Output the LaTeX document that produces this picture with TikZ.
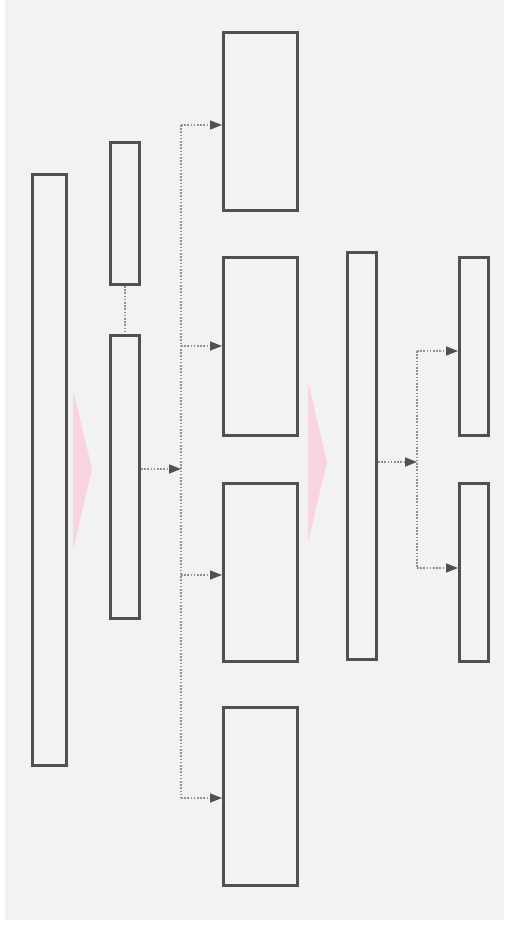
\documentclass[tikz,border=0pt]{standalone}
\usepackage{tikz}
\usetikzlibrary{arrows.meta,calc}
\usepackage{xcolor}
\definecolor{boxgray}{HTML}{505050}
\definecolor{dotgray}{HTML}{909090}
\definecolor{bggray}{HTML}{F2F2F2}
\definecolor{pinkarrow}{HTML}{F8D5DE}

\begin{document}
\begin{tikzpicture}[x=1pt, y=-1pt, >={Triangle[length=12pt,width=9pt,fill=boxgray,color=boxgray]},
    block/.style={draw=boxgray, line width=3pt, inner sep=0pt},
    link/.style={dotgray, line width=1.4pt, dash pattern=on 1.6pt off 1.6pt}]
    % Background and margins
    \useasboundingbox (0,0) rectangle (504,925);
    \fill[bggray] (5,0) rectangle (504,920);

    % Blocks
    \node[block, minimum width=34pt, minimum height=591pt] (A) at (49.5,470) {};
    \node[block, minimum width=29pt, minimum height=142pt] (B) at (125,213.5) {};
    \node[block, minimum width=29pt, minimum height=283pt] (C) at (125,477) {};
    \node[block, minimum width=74pt, minimum height=178pt] (D1) at (260.5,121.5) {};
    \node[block, minimum width=74pt, minimum height=178pt] (D2) at (260.5,346.5) {};
    \node[block, minimum width=74pt, minimum height=178pt] (D3) at (260.5,572.5) {};
    \node[block, minimum width=74pt, minimum height=178pt] (D4) at (260.5,796.5) {};
    \node[block, minimum width=29pt, minimum height=407pt] (E) at (362,456) {};
    \node[block, minimum width=29pt, minimum height=178pt] (F1) at (474,346.5) {};
    \node[block, minimum width=29pt, minimum height=178pt] (F2) at (474,572.5) {};

    % Pink arrows
    \fill[pinkarrow] (73,390) -- (92,469) -- (73,550) -- cycle;
    \fill[pinkarrow] (308,382) -- (327,462) -- (308,542) -- cycle;

    % Bus points
    \coordinate (cj) at (181,469);
    \coordinate (b1) at (181,125);
    \coordinate (b2) at (181,346);
    \coordinate (b3) at (181,575);
    \coordinate (b4) at (181,798);
    \coordinate (ej) at (417,462);
    \coordinate (f1) at (417,351);
    \coordinate (f2) at (417,568);

    % Dotted connectors
    \draw[link] (B.south) -- (C.north);
    \draw[link, ->] (C.east |- cj) -- (cj);
    \draw[link] (b1) -- (b4);
    \foreach \b/\d in {b1/D1, b2/D2, b3/D3, b4/D4}
        \draw[link, ->] (\b) -- (\d.west |- \b);
    \draw[link, ->] (E.east |- ej) -- (ej);
    \draw[link] (f1) -- (f2);
    \draw[link, ->] (f1) -- (F1.west |- f1);
    \draw[link, ->] (f2) -- (F2.west |- f2);
\end{tikzpicture}
\end{document}
